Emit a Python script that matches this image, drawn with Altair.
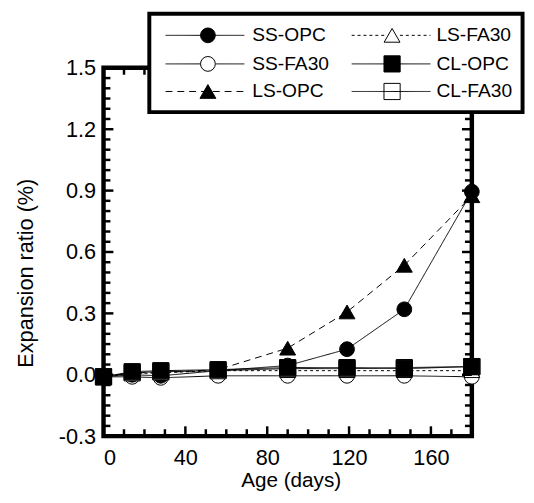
import altair as alt
import pandas as pd

# ---------------- data ----------------
days = [0, 14, 28, 56, 90, 119, 147, 180]
series_names = ["SS-OPC", "SS-FA30", "LS-OPC", "LS-FA30", "CL-OPC", "CL-FA30"]
ss_opc = [-0.01, 0.00, -0.005, 0.02, 0.045, 0.125, 0.32, 0.895]
ss_fa30 = [-0.01, -0.01, -0.015, -0.005, -0.005, -0.005, -0.005, -0.01]
ls_opc = [-0.01, 0.01, 0.01, 0.025, 0.13, 0.307, 0.535, 0.875]
ls_fa30 = [-0.01, 0.005, 0.01, 0.02, 0.02, 0.02, 0.02, 0.02]
cl_opc = [-0.01, 0.015, 0.02, 0.025, 0.035, 0.035, 0.03, 0.04]
cl_fa30 = [-0.01, 0.01, 0.015, 0.02, 0.03, 0.03, 0.035, 0.04]
y_tick_labels = [-0.3, 0.0, 0.3, 0.6, 0.9, 1.2, 1.5]
x_tick_labels = [0, 40, 80, 120, 160]

values = {
    "SS-OPC": ss_opc, "SS-FA30": ss_fa30, "LS-OPC": ls_opc,
    "LS-FA30": ls_fa30, "CL-OPC": cl_opc, "CL-FA30": cl_fa30,
}

rows = []
for s in series_names:
    for d, v in zip(days, values[s]):
        rows.append({"series": s, "day": d, "ratio": v})
df = pd.DataFrame(rows)

# ---------------- styles ----------------
shape_of = {"SS-OPC": "circle", "SS-FA30": "circle", "LS-OPC": "triangle-up",
            "LS-FA30": "triangle-up", "CL-OPC": "square", "CL-FA30": "square"}
fill_of = {"SS-OPC": "black", "SS-FA30": "white", "LS-OPC": "black",
           "LS-FA30": "white", "CL-OPC": "black", "CL-FA30": "white"}
size_of = {"SS-OPC": 225, "SS-FA30": 225, "LS-OPC": 260,
           "LS-FA30": 260, "CL-OPC": 270, "CL-FA30": 270}
dash_of = {"SS-OPC": [1, 0], "SS-FA30": [1, 0], "LS-OPC": [7, 5],
           "LS-FA30": [3, 3], "CL-OPC": [1, 0], "CL-FA30": [1, 0]}
open_gap = {"SS-OPC": False, "SS-FA30": True, "LS-OPC": False,
            "LS-FA30": True, "CL-OPC": False, "CL-FA30": False}

W, H = 374, 374
FONT = "Liberation Sans"

xscale = alt.Scale(domain=[0, 180], nice=False, zero=False)
yscale = alt.Scale(domain=[-0.3, 1.5], nice=False, zero=False)
dash_scale = alt.Scale(domain=series_names, range=[dash_of[s] for s in series_names])

# ---------------- main layers ----------------
lines = alt.Chart(df).mark_line(stroke="black", strokeWidth=1, clip=True).encode(
    x=alt.X("day:Q", scale=xscale,
            axis=alt.Axis(values=x_tick_labels, grid=False, domain=False, ticks=False,
                          tickSize=0, labelPadding=29, labelBaseline="alphabetic",
                          labelFontSize=22, labelFont=FONT, labelColor="black",
                          title="Age (days)", titleFontSize=21, titleFont=FONT,
                          titleFontWeight="normal", titleColor="black",
                          titleX=190, titleY=51, titleBaseline="alphabetic",
                          titleAlign="center")),
    y=alt.Y("ratio:Q", scale=yscale,
            axis=alt.Axis(values=y_tick_labels, format=".1f", grid=False, domain=False,
                          ticks=False, tickSize=0, labelPadding=8,
                          labelExpr="replace(datum.label, '\u2212', '-')",
                          labelFontSize=22, labelFont=FONT, labelColor="black",
                          title="Expansion ratio (%)", titleFontSize=22, titleFont=FONT,
                          titleFontWeight="normal", titleColor="black",
                          titleX=-72, titleY=208, titleAngle=270,
                          titleBaseline="alphabetic", titleAlign="center")),
    detail="series:N",
    strokeDash=alt.StrokeDash("series:N", legend=None, scale=dash_scale),
)

draw_order = ["SS-FA30", "LS-FA30", "LS-OPC", "SS-OPC", "CL-FA30", "CL-OPC"]
point_layers = []
for s in draw_order:
    point_layers.append(
        alt.Chart(df).transform_filter(alt.datum.series == s).mark_point(
            shape=shape_of[s], fill=fill_of[s], filled=True, stroke="black",
            strokeWidth=1, opacity=1, size=size_of[s]
        ).encode(
            x=alt.X("day:Q", scale=xscale),
            y=alt.Y("ratio:Q", scale=yscale),
        )
    )

# ---------------- inward ticks on all four sides ----------------
y_minor = [round(i * 0.05, 2) for i in range(-6, 31) if i % 6 != 0]
x_minor = [i for i in range(10, 181, 10) if i % 40 != 0]


def yticks(vals, length):
    base = alt.Chart(pd.DataFrame({"v": vals})).mark_rule(color="black", strokeWidth=2.5)
    left = base.encode(y=alt.Y("v:Q", scale=yscale), x=alt.value(0), x2=alt.value(length))
    right = base.encode(y=alt.Y("v:Q", scale=yscale), x=alt.value(W), x2=alt.value(W - length))
    return [left, right]


def xticks(vals, length):
    base = alt.Chart(pd.DataFrame({"v": vals})).mark_rule(color="black", strokeWidth=2.5)
    bottom = base.encode(x=alt.X("v:Q", scale=xscale), y=alt.value(H), y2=alt.value(H - length))
    top = base.encode(x=alt.X("v:Q", scale=xscale), y=alt.value(0), y2=alt.value(length))
    return [bottom, top]


tick_layers = (yticks(y_tick_labels, 10) + yticks(y_minor, 7)
               + xticks(x_tick_labels, 10) + xticks(x_minor, 7))

# ---------------- legend (2 columns x 3 rows, boxed) ----------------
BOX = (46.5, 425.5, -55, 45)        # x1, x2, y1, y2 in plot pixels
ROW_Y = [-33, -4, 24]
COL_LINE = [(63, 143), (252, 332)]  # line start / end
COL_MARK = [106, 293]
COL_TEXT = [151, 338]
MARK_HALF = 8

legend_box = alt.Chart(pd.DataFrame({"k": [0]})).mark_rect(
    fill="white", stroke="black", strokeWidth=4
).encode(
    x=alt.value(BOX[0]), x2=alt.value(BOX[1]), y=alt.value(BOX[2]), y2=alt.value(BOX[3])
)

legend_layers = []
seg_rows = []
for i, s in enumerate(series_names):
    col, row = divmod(i, 3)
    lx, rx = COL_LINE[col]
    mx, yy = COL_MARK[col], ROW_Y[row]
    if open_gap[s]:
        seg_rows.append({"series": s, "a": lx, "b": mx - MARK_HALF, "y": yy})
        seg_rows.append({"series": s, "a": mx + MARK_HALF, "b": rx, "y": yy})
    else:
        seg_rows.append({"series": s, "a": lx, "b": rx, "y": yy})
    legend_layers.append(
        alt.Chart(pd.DataFrame({"k": [0]})).mark_point(
            shape=shape_of[s], fill=fill_of[s], filled=True, stroke="black",
            strokeWidth=1, opacity=1, size=size_of[s]
        ).encode(x=alt.value(mx), y=alt.value(yy))
    )
    legend_layers.append(
        alt.Chart(pd.DataFrame({"k": [0]})).mark_text(
            text=s, align="left", baseline="middle", fontSize=19.5, font=FONT, color="black"
        ).encode(x=alt.value(COL_TEXT[col]), y=alt.value(yy))
    )

seg_df = pd.DataFrame(seg_rows)
legend_lines = alt.Chart(seg_df).mark_rule(color="black", strokeWidth=1).encode(
    x=alt.X("a:Q", scale=None), x2="b:Q", y=alt.Y("y:Q", scale=None),
    strokeDash=alt.StrokeDash("series:N", legend=None, scale=dash_scale),
)

chart = alt.layer(
    lines, *point_layers, *tick_layers, legend_box, *legend_layers, legend_lines
).properties(
    width=W, height=H,
    autosize=alt.AutoSizeParams(type="none"),
    padding={"left": 97, "top": 57, "right": 55, "bottom": 56},
    background="white",
).configure_view(
    stroke="black", strokeWidth=4.5
)

chart.save("out.html", embed_options={"renderer": "svg", "actions": False})
